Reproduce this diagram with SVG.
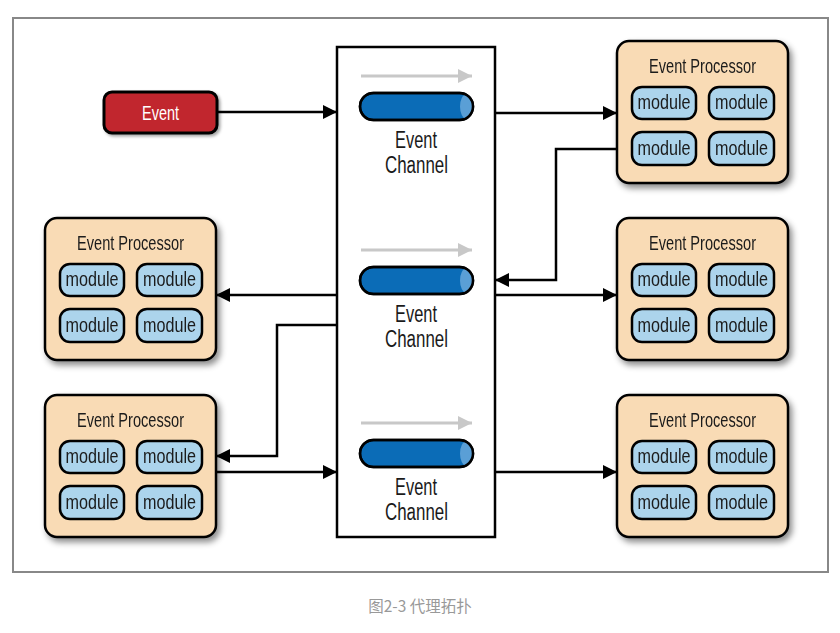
<svg xmlns="http://www.w3.org/2000/svg" width="840" height="633" viewBox="0 0 840 633">
<defs>
<filter id="sh" x="-10%" y="-10%" width="130%" height="130%">
<feDropShadow dx="3" dy="4" stdDeviation="3" flood-color="#000" flood-opacity="0.45"/>
</filter>
<filter id="sh2" x="-10%" y="-10%" width="130%" height="140%">
<feDropShadow dx="2" dy="2" stdDeviation="1.5" flood-color="#000" flood-opacity="0.35"/>
</filter>
<marker id="ah" viewBox="0 0 14 14" refX="14" refY="7" markerWidth="14" markerHeight="14" markerUnits="userSpaceOnUse" orient="auto">
<path d="M0,0 L14,7 L0,14 Z" fill="#000"/>
</marker>
<marker id="gah" viewBox="0 0 14 14" refX="14" refY="7" markerWidth="14" markerHeight="14" markerUnits="userSpaceOnUse" orient="auto">
<path d="M0,0 L14,7 L0,14 Z" fill="#c8c8c8"/>
</marker>
<g id="mods">
<rect x="15" y="46" width="64" height="32" rx="10" class="mod"/>
<rect x="92" y="46" width="65" height="32" rx="10" class="mod"/>
<rect x="15" y="91" width="64" height="33" rx="10" class="mod"/>
<rect x="92" y="91" width="65" height="33" rx="10" class="mod"/>
<text x="47" y="68" class="mt" textLength="53" lengthAdjust="spacingAndGlyphs">module</text>
<text x="124.5" y="68" class="mt" textLength="53" lengthAdjust="spacingAndGlyphs">module</text>
<text x="47" y="114" class="mt" textLength="53" lengthAdjust="spacingAndGlyphs">module</text>
<text x="124.5" y="114" class="mt" textLength="53" lengthAdjust="spacingAndGlyphs">module</text>
</g>
<g id="proc">
<rect x="0" y="0" width="171" height="142" rx="12" class="pb"/>
<text x="85.5" y="32" class="pt" textLength="107" lengthAdjust="spacingAndGlyphs">Event Processor</text>
<use href="#mods"/>
</g>
<g id="pipe">
<line x1="361" y1="0" x2="472" y2="0" stroke="#c8c8c8" stroke-width="3" marker-end="url(#gah)"/>
<rect x="360" y="17" width="113" height="27" rx="13.5" fill="#0b6cb7" stroke="#000" stroke-width="2.5"/>
<path d="M466,18.5 A6,12 0 0 0 466,42.5 A7,12 0 0 0 466,18.5 Z" fill="#5a9fd6"/>
<rect x="360" y="17" width="113" height="27" rx="13.5" fill="none" stroke="#000" stroke-width="2.5"/>
<text x="416" y="72" class="ct" textLength="42" lengthAdjust="spacingAndGlyphs">Event</text>
<text x="416.5" y="97" class="ct" textLength="63" lengthAdjust="spacingAndGlyphs">Channel</text>
</g>
</defs>
<style>
.mod{fill:#acd4ec;stroke:#000;stroke-width:2.5}
.mt{font-family:"Liberation Sans Narrow","Liberation Sans",sans-serif;font-size:21px;fill:#1a1a1a;text-anchor:middle}
.pb{fill:#f9dbb5;stroke:#000;stroke-width:2.5}
.pt{font-family:"Liberation Sans Narrow","Liberation Sans",sans-serif;font-size:20px;fill:#1a1a1a;text-anchor:middle}
.ct{font-family:"Liberation Sans Narrow","Liberation Sans",sans-serif;font-size:23px;fill:#1a1a1a;text-anchor:middle}
.conn{fill:none;stroke:#000;stroke-width:2.5}
</style>
<rect x="13" y="18" width="815" height="554" fill="#fff" stroke="#888" stroke-width="2"/>
<g id="channel">
<rect x="337" y="47" width="158" height="490" fill="#fff" stroke="#000" stroke-width="2.5"/>
<use href="#pipe" transform="translate(0,76)"/>
<use href="#pipe" transform="translate(0,250)"/>
<use href="#pipe" transform="translate(0,423)"/>
</g>
<g id="event">
<rect x="104" y="92" width="113" height="41" rx="8" fill="#c1272d" stroke="#000" stroke-width="3" filter="url(#sh2)"/>
<text x="160.5" y="120" font-family="Liberation Sans Narrow, Liberation Sans, sans-serif" font-size="21" fill="#fff" text-anchor="middle" textLength="37" lengthAdjust="spacingAndGlyphs">Event</text>
</g>
<g id="proc-r1" filter="url(#sh)"><use href="#proc" transform="translate(617,41)"/></g>
<g id="proc-r2" filter="url(#sh)"><use href="#proc" transform="translate(617,218)"/></g>
<g id="proc-r3" filter="url(#sh)"><use href="#proc" transform="translate(617,395)"/></g>
<g id="proc-l1" filter="url(#sh)"><use href="#proc" transform="translate(45,218)"/></g>
<g id="proc-l2" filter="url(#sh)"><use href="#proc" transform="translate(45,395)"/></g>
<g id="connectors">
<path class="conn" d="M217,112 H337" marker-end="url(#ah)"/>
<path class="conn" d="M495,113 H617" marker-end="url(#ah)"/>
<path class="conn" d="M617,149 H556 V280 H495" marker-end="url(#ah)"/>
<path class="conn" d="M495,295 H617" marker-end="url(#ah)"/>
<path class="conn" d="M337,295 H216" marker-end="url(#ah)"/>
<path class="conn" d="M337,325 H277 V456 H216" marker-end="url(#ah)"/>
<path class="conn" d="M216,472 H337" marker-end="url(#ah)"/>
<path class="conn" d="M495,472 H617" marker-end="url(#ah)"/>
</g>
<text x="420" y="612" font-family="Noto Sans CJK SC, sans-serif" font-size="15.5" fill="#999" text-anchor="middle">图2-3 代理拓扑</text>
</svg>
